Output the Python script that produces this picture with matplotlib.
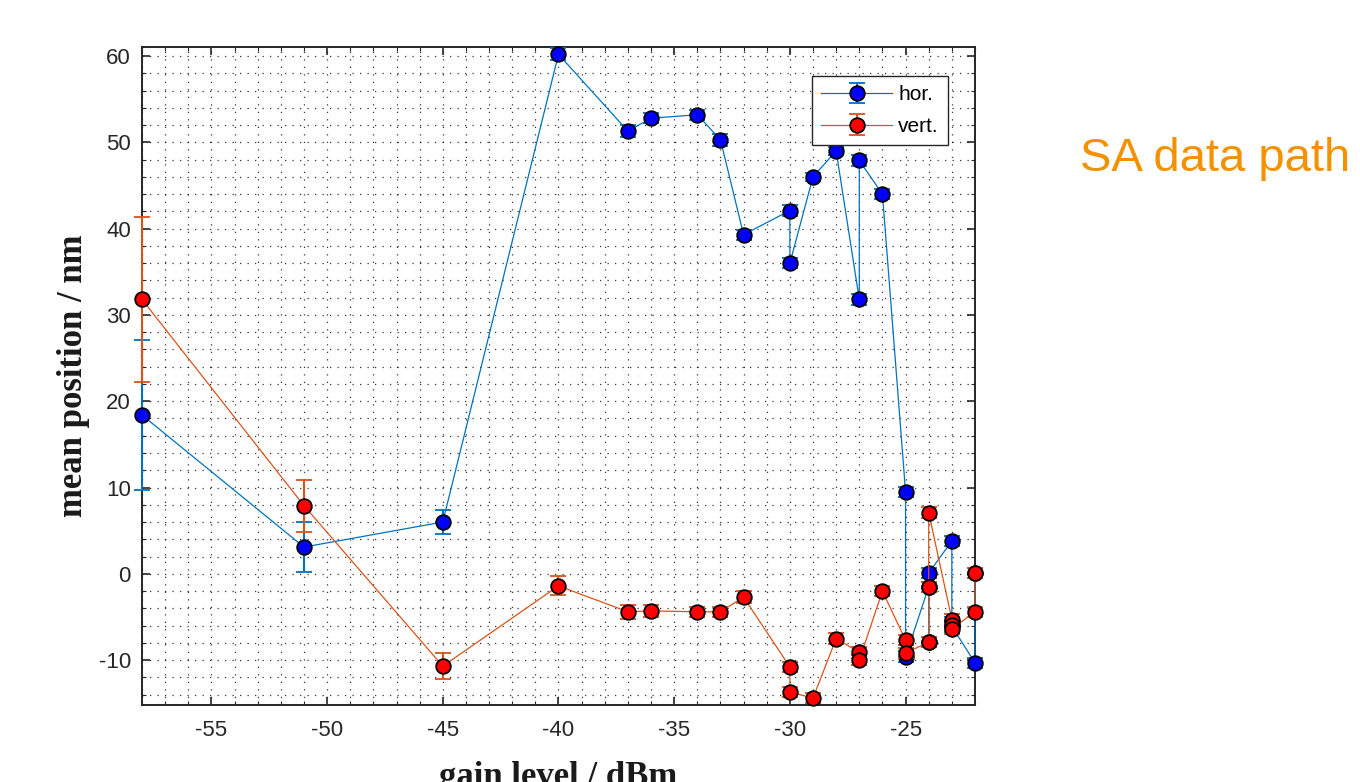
import numpy as np
import matplotlib
matplotlib.use("Agg")
import matplotlib.pyplot as plt
from matplotlib.ticker import MultipleLocator

plt.rcParams['font.family'] = ['Liberation Sans', 'DejaVu Sans']
plt.rcParams['axes.unicode_minus'] = False

# gain level (dBm) and mean position (nm), in measurement order
hor_x = [-58, -51, -45, -40, -37, -36, -34, -33, -32, -30, -30, -29, -28,
         -27, -27, -26, -25, -25, -24, -24, -24, -23, -23, -23, -22, -22]
hor_y = [18.4, 3.1, 6.0, 60.2, 51.3, 52.8, 53.2, 50.3, 39.3, 42.1, 36.0, 46.0, 49.0,
         31.8, 47.9, 44.0, 9.5, -9.6, -1.5, -7.9, 0.1, 3.8, -5.6, -6.1, -10.3, 0.1]
hor_err = [8.7, 2.9, 1.4, 0.7, 0.7, 0.6, 0.6, 0.7, 0.6, 0.6, 0.6, 0.5, 0.5,
           0.6, 0.6, 0.6, 0.6, 0.6, 0.6, 0.6, 0.6, 0.6, 0.6, 0.6, 0.6, 0.6]

vert_x = [-58, -51, -45, -40, -37, -36, -34, -33, -32, -30, -30, -29, -28,
          -27, -27, -26, -25, -25, -24, -24, -24, -23, -23, -23, -22, -22]
vert_y = [31.8, 7.9, -10.7, -1.4, -4.4, -4.3, -4.4, -4.4, -2.7, -10.8, -13.7, -14.4, -7.5,
          -9.1, -10.0, -2.0, -7.7, -9.2, -7.9, -1.5, 7.1, -5.3, -5.9, -6.4, -4.4, 0.1]
vert_err = [9.6, 3.0, 1.5, 1.1, 0.8, 0.7, 0.6, 0.6, 0.7, 0.6, 0.6, 0.6, 0.6,
            0.6, 0.6, 0.6, 0.6, 0.6, 0.6, 0.6, 0.6, 0.6, 0.6, 0.6, 0.6, 0.6]

fig = plt.figure(figsize=(13.6, 7.82), dpi=100)
ax = fig.add_axes([0.1044, 0.0985, 0.6125, 0.8414])

series = [(hor_x, hor_y, hor_err, '#0072BD', (0, 0, 1), 'hor.'),
          (vert_x, vert_y, vert_err, '#D95319', (1, 0, 0), 'vert.')]
for k, (xs, ys, es, lc, fc, lab) in enumerate(series):
    eb = ax.errorbar(xs, ys, yerr=es, fmt='-o', color=lc, lw=0.9,
                     elinewidth=1.5, capsize=5.5, capthick=1.4, ms=10.5,
                     mfc=fc, mec='k', mew=1.3, label=lab)
    data_line, caps, bars = eb.lines
    for art in list(caps) + list(bars):
        art.set_clip_on(False)
        art.set_zorder(3 + k)
    data_line.set_clip_on(False)
    data_line.set_zorder(3.5 + k)

ax.set_xlim(-58, -22)
ax.set_ylim(-15.2, 61.05)
ax.xaxis.set_major_locator(MultipleLocator(5))
ax.xaxis.set_minor_locator(MultipleLocator(1))
ax.yaxis.set_major_locator(MultipleLocator(10))
ax.yaxis.set_minor_locator(MultipleLocator(2))

ax.grid(True, which='both', color='k', linestyle=(0, (1, 5)), linewidth=0.9, alpha=0.8)
ax.tick_params(which='both', direction='in', top=True, right=True,
               colors='#262626', labelsize=16)
ax.tick_params(which='major', length=6, width=1.2)
ax.tick_params(which='minor', length=3, width=0.8)
ax.tick_params(axis='x', pad=11)
ax.tick_params(axis='y', pad=8)
for s in ax.spines.values():
    s.set_linewidth(1.4)
    s.set_color('#262626')

ax.set_ylabel('mean position / nm', family=['Liberation Serif', 'DejaVu Serif'],
              fontweight='bold', fontsize=25, color='#1a1a1a')
ax.yaxis.set_label_coords(-0.062, 0.5)
ax.set_xlabel('gain level / dBm', family=['Liberation Serif', 'DejaVu Serif'],
              fontweight='bold', fontsize=25, color='#1a1a1a', va='top')
ax.xaxis.set_label_coords(0.5, -0.085)

leg = ax.legend(loc='upper right', bbox_to_anchor=(0.968, 0.956), borderaxespad=0,
                fancybox=False, edgecolor='#262626', framealpha=1, fontsize=15,
                handlelength=3.4, handletextpad=0.3, borderpad=0.45, labelspacing=0.6)
leg.get_frame().set_linewidth(1.0)
leg.set_zorder(6)

fig.text(0.794, 0.797, 'SA data path', color='#F39200', fontsize=34, ha='left', va='center')

fig.savefig('out.png', dpi=100)
